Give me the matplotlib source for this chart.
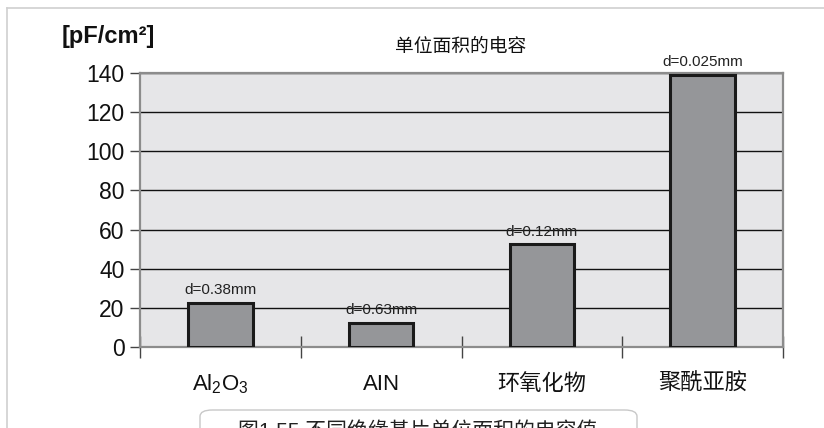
import matplotlib
matplotlib.use('Agg')
import matplotlib.pyplot as plt
from matplotlib.patches import FancyBboxPatch
import numpy as np

plt.rcParams['font.family'] = ['Liberation Sans', 'Noto Sans CJK SC', 'DejaVu Sans']
plt.rcParams['mathtext.fontset'] = 'custom'
plt.rcParams['mathtext.rm'] = 'Liberation Sans'
plt.rcParams['mathtext.default'] = 'regular'

# 数据
materials = ['Al$_2$O$_3$', 'AIN', '环氧化物', '聚酰亚胺']
capacitance = [22.7, 12.5, 52.5, 139.0]   # pF/cm2
thickness = ['d=0.38mm', 'd=0.63mm', 'd=0.12mm', 'd=0.025mm']
yticks = [0, 20, 40, 60, 80, 100, 120, 140]

fig = plt.figure(figsize=(8.24, 4.28), dpi=100)
ax = fig.add_axes([140/824, 1 - 347/428, 643/824, 274/428])
ax.set_facecolor('#e6e6e8')

x = np.arange(len(materials))
ax.bar(x, capacitance, width=0.4, color='#959699', edgecolor='#1a1a1a',
       linewidth=2.2, zorder=3)

for xi, v, t in zip(x, capacitance, thickness):
    ax.annotate(t, (xi, v), xytext=(0, 4), textcoords='offset points',
                ha='center', va='bottom', fontsize=11, color='#222222', zorder=4)

ax.set_xlim(-0.5, len(materials) - 0.5)
ax.set_ylim(0, 140)
ax.set_yticks(yticks)
ax.set_yticklabels([str(v) for v in yticks], fontsize=16.5)
ax.yaxis.grid(True, color='#111111', linewidth=1.0, zorder=1)
ax.set_axisbelow(True)

# 类别分隔刻度
ax.set_xticks(np.arange(-0.5, len(materials), 1.0))
ax.set_xticklabels([])
ax.tick_params(axis='x', direction='inout', length=16, width=1.0, color='#444444')
ax.tick_params(axis='y', direction='out', length=7, width=1.0, color='#444444',
               pad=4, labelcolor='#111111')
for xi, name in zip(x, materials):
    ax.text(xi, -19, name, ha='center', va='center', fontsize=16, color='#111111')

for side in ['left', 'right', 'top', 'bottom']:
    ax.spines[side].set_color('#8c8c8c')
    ax.spines[side].set_linewidth(1.6)

fig.text(461/824, 1 - 47/428, '单位面积的电容', ha='center', va='center',
         fontsize=13.5, color='#111111')
fig.text(108/824, 1 - 37/428, '[pF/cm²]', ha='center', va='center',
         fontsize=17, fontweight='bold', color='#111111')

# 外框
fig.add_artist(plt.Line2D([7/824, 1], [1 - 8/428, 1 - 8/428], color='#d0d0d0',
                          linewidth=1.2, transform=fig.transFigure))
fig.add_artist(plt.Line2D([7/824, 7/824], [0, 1 - 8/428], color='#d0d0d0',
                          linewidth=1.2, transform=fig.transFigure))

# 图注
box = FancyBboxPatch((200/824, 1 - 440/428), 437/824, 30/428,
                     boxstyle='round,pad=0,rounding_size=0.015',
                     transform=fig.transFigure, facecolor='white',
                     edgecolor='#c8c8c8', linewidth=1.0)
fig.add_artist(box)
fig.text(418/824, 1 - 431/428, '图1.55 不同绝缘基片单位面积的电容值', ha='center',
         va='center', fontsize=15, color='#222222')

fig.savefig('out.png', dpi=100)
